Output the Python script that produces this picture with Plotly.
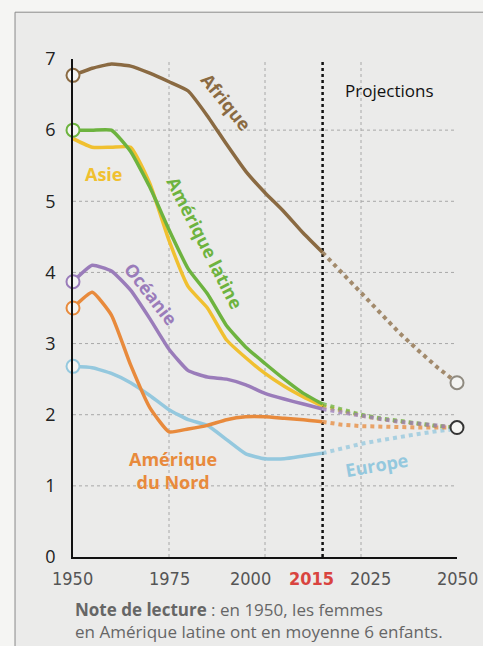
import plotly.graph_objects as go

# ---------------- data ----------------
years = [1950, 1955, 1960, 1965, 1970, 1975, 1980, 1985, 1990, 1995, 2000, 2005, 2010, 2015]
proj_years = [2015, 2020, 2025, 2030, 2035, 2040, 2045, 2050]

afrique = [6.77, 6.87, 6.93, 6.9, 6.8, 6.68, 6.55, 6.2, 5.8, 5.42, 5.12, 4.85, 4.55, 4.28]
am_latine = [6.0, 6.0, 6.0, 5.7, 5.2, 4.6, 4.05, 3.7, 3.25, 2.95, 2.72, 2.5, 2.3, 2.15]
asie = [5.88, 5.76, 5.76, 5.76, 5.25, 4.45, 3.8, 3.5, 3.05, 2.8, 2.58, 2.4, 2.25, 2.12]
oceanie = [3.87, 4.1, 4.02, 3.75, 3.35, 2.92, 2.62, 2.53, 2.5, 2.42, 2.3, 2.22, 2.15, 2.08]
am_nord = [3.5, 3.72, 3.4, 2.7, 2.1, 1.76, 1.8, 1.85, 1.93, 1.97, 1.97, 1.95, 1.93, 1.9]
europe = [2.68, 2.66, 2.58, 2.45, 2.27, 2.07, 1.93, 1.85, 1.65, 1.45, 1.38, 1.38, 1.42, 1.46]

afrique_p = [4.28, 4.0, 3.7, 3.42, 3.15, 2.9, 2.66, 2.45]
am_latine_p = [2.15, 2.07, 2.0, 1.95, 1.91, 1.87, 1.84, 1.82]
asie_p = [2.12, 2.05, 1.99, 1.94, 1.9, 1.87, 1.84, 1.82]
oceanie_p = [2.08, 2.03, 1.98, 1.94, 1.9, 1.87, 1.84, 1.82]
am_nord_p = [1.9, 1.86, 1.84, 1.83, 1.83, 1.82, 1.82, 1.82]
europe_p = [1.46, 1.53, 1.59, 1.64, 1.69, 1.73, 1.77, 1.8]

end_values = [2.45, 1.82]
y_ticks = [0, 1, 2, 3, 4, 5, 6, 7]
x_ticks = [1950, 1975, 2000, 2015, 2025, 2050]
x_grid = [1975, 2000, 2025]
y_grid = [1, 2, 3, 4, 5, 6]

# ---------------- styles ----------------
C_AFR = "#8a6a42"
C_LAT = "#6db33f"
C_ASI = "#f0c030"
C_OCE = "#9a7cba"
C_NOR = "#e88a3c"
C_EUR = "#94c8de"

series = [
    ("Asie", asie, asie_p, C_ASI, False),
    ("Amérique latine", am_latine, am_latine_p, C_LAT, True),
    ("Afrique", afrique, afrique_p, C_AFR, True),
    ("Europe", europe, europe_p, C_EUR, True),
    ("Amérique du Nord", am_nord, am_nord_p, C_NOR, True),
    ("Océanie", oceanie, oceanie_p, C_OCE, True),
]

fig = go.Figure()

for name, hist, proj, col, _ in series:
    fig.add_trace(go.Scatter(
        x=proj_years, y=proj, mode="lines",
        line=dict(color=col, width=4, dash="dot"),
        opacity=0.75, showlegend=False, hoverinfo="skip", cliponaxis=False))

for name, hist, proj, col, _ in series:
    fig.add_trace(go.Scatter(
        x=years, y=hist, mode="lines",
        line=dict(color=col, width=3.5, shape="spline", smoothing=0.45),
        showlegend=False, name=name, cliponaxis=False))

for name, hist, proj, col, mk in series:
    if mk:
        fig.add_trace(go.Scatter(
            x=[years[0]], y=[hist[0]], mode="markers",
            marker=dict(size=13, color="#f4f4f2", line=dict(color=col, width=2)),
            showlegend=False, hoverinfo="skip", cliponaxis=False))

fig.add_trace(go.Scatter(
    x=[proj_years[-1]] * len(end_values), y=end_values, mode="markers",
    marker=dict(size=13, color="#f4f4f2", line=dict(color=["#8f8a80", "#333333"], width=2)),
    showlegend=False, hoverinfo="skip", cliponaxis=False))

shapes = [
    dict(type="rect", xref="paper", yref="paper", x0=-0.151, x1=1.3, y0=-0.5, y1=1.094,
         fillcolor="#ebebea", line=dict(color="#8a8a8a", width=1), layer="below"),
]
for gx in x_grid:
    shapes.append(dict(type="line", xref="x", yref="y", x0=gx, x1=gx, y0=0, y1=y_ticks[-1],
                       line=dict(color="#a8a8a8", width=1, dash="dot"), layer="below"))
for gy in y_grid:
    shapes.append(dict(type="line", xref="x", yref="y", x0=x_ticks[0], x1=x_ticks[-1], y0=gy, y1=gy,
                       line=dict(color="#a8a8a8", width=1, dash="dot"), layer="below"))
shapes.append(dict(type="line", xref="x", yref="y", x0=2015, x1=2015, y0=0, y1=y_ticks[-1],
                   line=dict(color="#111111", width=2.5, dash="dot"), layer="below"))

LBL = "Open Sans"
annotations = [
    dict(x=1990, y=6.4, text="<b>Afrique</b>", textangle=51, font=dict(color=C_AFR, size=18, family=LBL)),
    dict(x=1958, y=5.38, text="<b>Asie</b>", font=dict(color=C_ASI, size=18, family=LBL)),
    dict(x=1984.5, y=4.42, text="<b>Amérique latine</b>", textangle=63, font=dict(color=C_LAT, size=18, family=LBL)),
    dict(x=1970.3, y=3.69, text="<b>Océanie</b>", textangle=52, font=dict(color=C_OCE, size=18, family=LBL)),
    dict(x=1976, y=1.22, text="<b>Amérique<br>du Nord</b>", font=dict(color=C_NOR, size=18, family=LBL)),
    dict(x=2029, y=1.3, text="<b>Europe</b>", textangle=-10, font=dict(color=C_EUR, size=18, family=LBL)),
    dict(x=2032.5, y=6.56, text="Projections", font=dict(color="#111111", size=17, family=LBL)),
    dict(xref="paper", yref="paper", x=0.0, y=-0.078, xanchor="left", yanchor="top", align="left",
         text="<b>Note de lecture</b> : en 1950, les femmes<br>en Amérique latine ont en moyenne 6 enfants.",
         font=dict(color="#666666", size=17, family="Open Sans")),
]

# x tick labels (shifted sideways as in the original layout to avoid collisions)
tick_shift = {1950: -1, 1975: 0, 2000: -15, 2015: -11, 2025: 9, 2050: 0}
TICKFONT = "Liberation Sans Narrow, DejaVu Sans Condensed, Roboto, sans-serif"
for t in x_ticks:
    if t == 2015:
        txt = "<b>%d</b>" % t
        col = "#d9443f"
    else:
        txt = str(t)
        col = "#555555"
    annotations.append(dict(x=t, xref="x", y=0, yref="paper", yanchor="top", yshift=-9,
                            xshift=tick_shift[t], text=txt,
                            font=dict(family=TICKFONT, size=18, color=col)))
for a in annotations:
    a["showarrow"] = False

fig.update_layout(
    width=483, height=646,
    margin=dict(l=73, r=26, t=59, b=89),
    paper_bgcolor="#f5f5f3", plot_bgcolor="rgba(0,0,0,0)",
    shapes=shapes, annotations=annotations,
    xaxis=dict(range=[1950, 2050], tickvals=x_ticks, showticklabels=False, showgrid=False,
               zeroline=False, showline=True, linecolor="#111111", linewidth=2, ticks=""),
    yaxis=dict(range=[0, 7], tickvals=y_ticks, showgrid=False, zeroline=False, showline=True,
               linecolor="#111111", linewidth=1.5, ticks="", ticklabelstandoff=12,
               tickfont=dict(family="Open Sans", size=18, color="#222222")),
)

fig.write_html("out.html", config={"displayModeBar": False},
               post_script="document.body.style.margin='0';document.body.style.overflow='hidden';")
